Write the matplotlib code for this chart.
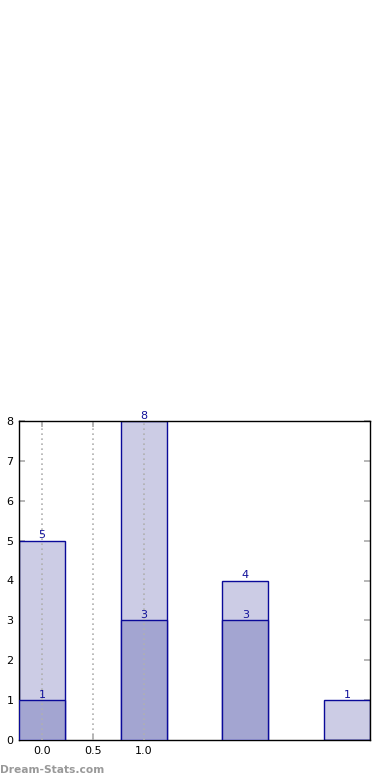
import numpy as np
import matplotlib
matplotlib.use('Agg')
import matplotlib.pyplot as plt

# data
positions = [0, 1, 2, 3]
totals = [5, 8, 4, 1]
subset = [1, 3, 3, 0]
xticks = [0.0, 0.5, 1.0]

light = '#ccccE5'
dark = '#a3a5d1'
edge = '#0a0a99'
txt = '#10109a'

fig = plt.figure(figsize=(3.9, 7.8), dpi=100)
ax = fig.add_axes([19 / 390, 40 / 780, 351 / 390, 319 / 780])

w = 0.45
ax.bar(positions, totals, width=w, color=light, edgecolor=edge, linewidth=1, zorder=2)
ax.bar(positions, subset, width=w, color=dark, edgecolor=edge, linewidth=1, zorder=3)

for x, v in zip(positions, totals):
    ax.text(x, v + 0.01, str(v), ha='center', va='bottom', color=txt, fontsize=8, zorder=5)
for x, v in zip(positions, subset):
    if v > 0:
        ax.text(x, v + 0.01, str(v), ha='center', va='bottom', color=txt, fontsize=8, zorder=5)

ax.set_xlim(-0.225, 3.225)
ax.set_ylim(0, 8)
ax.set_xticks(xticks)
ax.set_xticklabels(['0.0', '0.5', '1.0'])
ax.set_yticks(range(9))
ax.tick_params(direction='in', length=4, width=1.2, color='#aaaaaa', labelsize=8,
               top=True, right=True, pad=4)
for x in xticks:
    ax.axvline(x, color='#b0b0b0', linestyle=(0, (1, 2)), linewidth=1.2, zorder=4)
for s in ax.spines.values():
    s.set_linewidth(1)
    s.set_color('black')

fig.text(0.0, 10 / 780, 'Dream-Stats.com', color='#999999', fontsize=7.7,
         fontweight='bold', ha='left', va='center')

fig.savefig('out.png', dpi=100)
